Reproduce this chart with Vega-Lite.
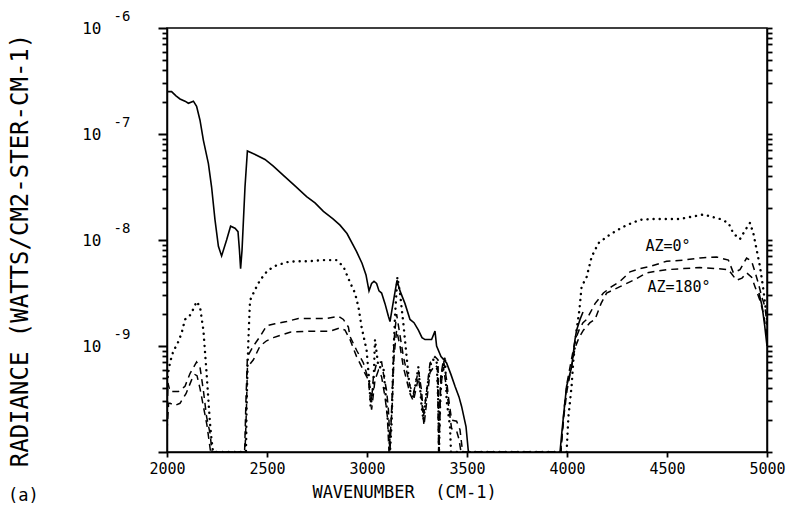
{
  "$schema": "https://vega.github.io/schema/vega-lite/v6.json",
  "width": 600,
  "height": 424,
  "autosize": "none",
  "padding": {"left": 167, "top": 28, "right": 24, "bottom": 56},
  "background": "white",
  "config": {
    "font": "DejaVu Sans Mono",
    "view": {"stroke": "black", "strokeWidth": 1.5},
    "axis": {"grid": false, "labelColor": "black", "domainColor": "black", "tickColor": "black", "titleColor": "black", "titleFontWeight": "normal", "domainWidth": 1.5, "tickWidth": 1.8}
  },
  "title": {"text": "(a)", "orient": "bottom", "anchor": "start", "frame": "bounds", "font": "DejaVu Sans Mono", "fontSize": 17, "fontWeight": "normal", "color": "black", "offset": -12},
  "data": {"values": [
    {"s":"S","x":2000,"y":2.51e-7},{"s":"S","x":2023,"y":2.51e-7},{"s":"S","x":2045,"y":2.29e-7},{"s":"S","x":2065,"y":2.14e-7},{"s":"S","x":2090,"y":2.04e-7},{"s":"S","x":2107,"y":1.95e-7},{"s":"S","x":2132,"y":2.04e-7},{"s":"S","x":2148,"y":1.82e-7},{"s":"S","x":2165,"y":1.35e-7},{"s":"S","x":2182,"y":8.71e-8},{"s":"S","x":2207,"y":5.25e-8},{"s":"S","x":2223,"y":3.16e-8},{"s":"S","x":2240,"y":1.55e-8},{"s":"S","x":2257,"y":8.71e-9},{"s":"S","x":2273,"y":7.08e-9},{"s":"S","x":2298,"y":1.0e-8},{"s":"S","x":2318,"y":1.35e-8},{"s":"S","x":2340,"y":1.29e-8},{"s":"S","x":2355,"y":1.20e-8},{"s":"S","x":2362,"y":8.13e-9},{"s":"S","x":2368,"y":5.37e-9},{"s":"S","x":2375,"y":7.94e-9},{"s":"S","x":2390,"y":3.16e-8},{"s":"S","x":2402,"y":6.92e-8},{"s":"S","x":2448,"y":6.31e-8},{"s":"S","x":2490,"y":5.75e-8},{"s":"S","x":2530,"y":5.01e-8},{"s":"S","x":2582,"y":4.07e-8},{"s":"S","x":2640,"y":3.24e-8},{"s":"S","x":2698,"y":2.57e-8},{"s":"S","x":2740,"y":2.24e-8},{"s":"S","x":2782,"y":1.86e-8},{"s":"S","x":2830,"y":1.58e-8},{"s":"S","x":2865,"y":1.38e-8},{"s":"S","x":2900,"y":1.15e-8},{"s":"S","x":2948,"y":7.76e-9},{"s":"S","x":2975,"y":6.03e-9},{"s":"S","x":2995,"y":4.68e-9},{"s":"S","x":3010,"y":3.31e-9},{"s":"S","x":3023,"y":3.89e-9},{"s":"S","x":3035,"y":4.07e-9},{"s":"S","x":3048,"y":3.89e-9},{"s":"S","x":3060,"y":3.31e-9},{"s":"S","x":3073,"y":3.16e-9},{"s":"S","x":3090,"y":2.51e-9},{"s":"S","x":3107,"y":1.91e-9},{"s":"S","x":3115,"y":1.70e-9},{"s":"S","x":3130,"y":2.51e-9},{"s":"S","x":3150,"y":4.17e-9},{"s":"S","x":3165,"y":3.31e-9},{"s":"S","x":3190,"y":2.51e-9},{"s":"S","x":3215,"y":1.78e-9},{"s":"S","x":3235,"y":1.66e-9},{"s":"S","x":3257,"y":1.41e-9},{"s":"S","x":3275,"y":1.20e-9},{"s":"S","x":3290,"y":1.15e-9},{"s":"S","x":3323,"y":1.15e-9},{"s":"S","x":3340,"y":1.38e-9},{"s":"S","x":3348,"y":1.0e-9},{"s":"S","x":3370,"y":7.94e-10},{"s":"S","x":3398,"y":6.92e-10},{"s":"S","x":3420,"y":5.37e-10},{"s":"S","x":3440,"y":4.17e-10},{"s":"S","x":3460,"y":3.31e-10},{"s":"S","x":3473,"y":2.69e-10},{"s":"S","x":3495,"y":1.74e-10},{"s":"S","x":3507,"y":1e-10},
    {"s":"S2","x":3965,"y":1e-10},{"s":"S2","x":3975,"y":1.58e-10},{"s":"S2","x":3982,"y":2.14e-10},{"s":"S2","x":3998,"y":4.17e-10},{"s":"S2","x":4023,"y":6.31e-10},{"s":"S2","x":4040,"y":1.15e-9},{"s":"S2","x":4048,"y":1.41e-9},{"s":"S2","x":4065,"y":1.78e-9},{"s":"S2","x":4080,"y":2.09e-9},
    {"s":"S3","x":4960,"y":3.16e-9},{"s":"S3","x":4975,"y":2.40e-9},{"s":"S3","x":4988,"y":1.58e-9},{"s":"S3","x":5000,"y":1.0e-9},
    {"s":"P","x":2000,"y":4.47e-10},{"s":"P","x":2010,"y":6.31e-10},{"s":"P","x":2023,"y":7.94e-10},{"s":"P","x":2035,"y":9.33e-10},{"s":"P","x":2048,"y":1.0e-9},{"s":"P","x":2073,"y":1.32e-9},{"s":"P","x":2090,"y":1.78e-9},{"s":"P","x":2115,"y":1.95e-9},{"s":"P","x":2135,"y":2.29e-9},{"s":"P","x":2148,"y":2.63e-9},{"s":"P","x":2165,"y":2.34e-9},{"s":"P","x":2182,"y":1.41e-9},{"s":"P","x":2198,"y":5.50e-10},{"s":"P","x":2215,"y":1.86e-10},{"s":"P","x":2223,"y":1.29e-10},{"s":"P","x":2230,"y":1e-10},{"s":"P","x":2395,"y":1e-10},{"s":"P","x":2398,"y":2.69e-10},{"s":"P","x":2402,"y":5.50e-10},{"s":"P","x":2407,"y":1.15e-9},{"s":"P","x":2415,"y":2.69e-9},{"s":"P","x":2440,"y":3.39e-9},{"s":"P","x":2465,"y":4.17e-9},{"s":"P","x":2498,"y":5.01e-9},{"s":"P","x":2532,"y":5.62e-9},{"s":"P","x":2598,"y":6.17e-9},{"s":"P","x":2650,"y":6.31e-9},{"s":"P","x":2715,"y":6.31e-9},{"s":"P","x":2780,"y":6.46e-9},{"s":"P","x":2848,"y":6.46e-9},{"s":"P","x":2882,"y":5.62e-9},{"s":"P","x":2915,"y":3.98e-9},{"s":"P","x":2940,"y":3.16e-9},{"s":"P","x":2957,"y":2.34e-9},{"s":"P","x":2973,"y":1.51e-9},{"s":"P","x":2998,"y":9.12e-10},{"s":"P","x":3012,"y":4.47e-10},{"s":"P","x":3018,"y":2.69e-10},{"s":"P","x":3032,"y":4.17e-10},{"s":"P","x":3040,"y":1.15e-9},{"s":"P","x":3057,"y":6.31e-10},{"s":"P","x":3082,"y":6.31e-10},{"s":"P","x":3098,"y":2.69e-10},{"s":"P","x":3112,"y":1.29e-10},{"s":"P","x":3115,"y":1e-10},{"s":"P","x":3123,"y":1.86e-10},{"s":"P","x":3132,"y":7.94e-10},{"s":"P","x":3140,"y":1.91e-9},{"s":"P","x":3152,"y":4.47e-9},{"s":"P","x":3165,"y":3.16e-9},{"s":"P","x":3182,"y":1.62e-9},{"s":"P","x":3198,"y":7.94e-10},{"s":"P","x":3215,"y":3.80e-10},{"s":"P","x":3232,"y":3.31e-10},{"s":"P","x":3257,"y":6.31e-10},{"s":"P","x":3273,"y":2.69e-10},{"s":"P","x":3282,"y":2.0e-10},{"s":"P","x":3300,"y":3.98e-10},{"s":"P","x":3323,"y":7.41e-10},{"s":"P","x":3348,"y":7.41e-10},{"s":"P","x":3357,"y":2.69e-10},{"s":"P","x":3360,"y":1e-10},{"s":"P","x":3365,"y":2.51e-10},{"s":"P","x":3373,"y":5.50e-10},{"s":"P","x":3390,"y":7.94e-10},{"s":"P","x":3398,"y":3.09e-10},{"s":"P","x":3415,"y":1.74e-10},{"s":"P","x":3420,"y":1e-10},{"s":"P","x":3998,"y":1e-10},{"s":"P","x":4007,"y":2.14e-10},{"s":"P","x":4023,"y":4.17e-10},{"s":"P","x":4032,"y":7.41e-10},{"s":"P","x":4048,"y":1.41e-9},{"s":"P","x":4062,"y":2.19e-9},{"s":"P","x":4073,"y":3.63e-9},{"s":"P","x":4098,"y":4.47e-9},{"s":"P","x":4123,"y":6.92e-9},{"s":"P","x":4157,"y":9.33e-9},{"s":"P","x":4198,"y":1.07e-8},{"s":"P","x":4248,"y":1.23e-8},{"s":"P","x":4298,"y":1.38e-8},{"s":"P","x":4365,"y":1.55e-8},{"s":"P","x":4432,"y":1.58e-8},{"s":"P","x":4565,"y":1.58e-8},{"s":"P","x":4682,"y":1.74e-8},{"s":"P","x":4765,"y":1.58e-8},{"s":"P","x":4807,"y":1.45e-8},{"s":"P","x":4832,"y":1.15e-8},{"s":"P","x":4865,"y":1.02e-8},{"s":"P","x":4890,"y":1.23e-8},{"s":"P","x":4915,"y":1.45e-8},{"s":"P","x":4932,"y":1.15e-8},{"s":"P","x":4948,"y":8.13e-9},{"s":"P","x":4965,"y":5.62e-9},{"s":"P","x":4982,"y":3.39e-9},{"s":"P","x":5000,"y":1.78e-9},
    {"s":"A","x":2000,"y":2.0e-10},{"s":"A","x":2005,"y":4.47e-10},{"s":"A","x":2015,"y":3.72e-10},{"s":"A","x":2057,"y":3.72e-10},{"s":"A","x":2090,"y":4.17e-10},{"s":"A","x":2115,"y":5.50e-10},{"s":"A","x":2148,"y":7.08e-10},{"s":"A","x":2165,"y":6.31e-10},{"s":"A","x":2182,"y":3.80e-10},{"s":"A","x":2198,"y":2.14e-10},{"s":"A","x":2215,"y":1.51e-10},{"s":"A","x":2225,"y":1e-10},{"s":"A","x":2388,"y":1e-10},{"s":"A","x":2395,"y":3.16e-10},{"s":"A","x":2402,"y":7.94e-10},{"s":"A","x":2432,"y":1.0e-9},{"s":"A","x":2465,"y":1.23e-9},{"s":"A","x":2498,"y":1.55e-9},{"s":"A","x":2540,"y":1.62e-9},{"s":"A","x":2598,"y":1.70e-9},{"s":"A","x":2657,"y":1.82e-9},{"s":"A","x":2732,"y":1.82e-9},{"s":"A","x":2798,"y":1.82e-9},{"s":"A","x":2857,"y":1.91e-9},{"s":"A","x":2882,"y":1.78e-9},{"s":"A","x":2907,"y":1.51e-9},{"s":"A","x":2915,"y":1.23e-9},{"s":"A","x":2948,"y":9.12e-10},{"s":"A","x":2982,"y":6.92e-10},{"s":"A","x":2998,"y":5.50e-10},{"s":"A","x":3012,"y":4.47e-10},{"s":"A","x":3023,"y":3.09e-10},{"s":"A","x":3032,"y":5.13e-10},{"s":"A","x":3048,"y":6.92e-10},{"s":"A","x":3073,"y":7.08e-10},{"s":"A","x":3082,"y":5.50e-10},{"s":"A","x":3098,"y":3.80e-10},{"s":"A","x":3107,"y":2.51e-10},{"s":"A","x":3112,"y":1.62e-10},{"s":"A","x":3115,"y":1e-10},{"s":"A","x":3125,"y":3.16e-10},{"s":"A","x":3135,"y":1.12e-9},{"s":"A","x":3148,"y":2.0e-9},{"s":"A","x":3165,"y":1.26e-9},{"s":"A","x":3182,"y":7.94e-10},{"s":"A","x":3215,"y":4.17e-10},{"s":"A","x":3232,"y":3.55e-10},{"s":"A","x":3257,"y":5.89e-10},{"s":"A","x":3273,"y":3.80e-10},{"s":"A","x":3282,"y":2.14e-10},{"s":"A","x":3300,"y":3.98e-10},{"s":"A","x":3315,"y":6.92e-10},{"s":"A","x":3340,"y":7.94e-10},{"s":"A","x":3355,"y":7.41e-10},{"s":"A","x":3360,"y":1e-10},{"s":"A","x":3368,"y":5.01e-10},{"s":"A","x":3382,"y":7.41e-10},{"s":"A","x":3398,"y":4.79e-10},{"s":"A","x":3407,"y":3.31e-10},{"s":"A","x":3423,"y":2.0e-10},{"s":"A","x":3448,"y":1.95e-10},{"s":"A","x":3465,"y":1.62e-10},{"s":"A","x":3478,"y":1e-10},{"s":"A","x":3970,"y":1e-10},{"s":"A","x":3985,"y":2.51e-10},{"s":"A","x":4000,"y":4.47e-10},{"s":"A","x":4020,"y":7.08e-10},{"s":"A","x":4040,"y":1.12e-9},{"s":"A","x":4060,"y":1.41e-9},{"s":"A","x":4080,"y":1.66e-9},{"s":"A","x":4098,"y":1.78e-9},{"s":"A","x":4115,"y":2.04e-9},{"s":"A","x":4140,"y":2.51e-9},{"s":"A","x":4182,"y":3.16e-9},{"s":"A","x":4223,"y":3.63e-9},{"s":"A","x":4265,"y":4.07e-9},{"s":"A","x":4315,"y":5.01e-9},{"s":"A","x":4365,"y":5.37e-9},{"s":"A","x":4415,"y":5.62e-9},{"s":"A","x":4498,"y":6.31e-9},{"s":"A","x":4582,"y":6.46e-9},{"s":"A","x":4665,"y":6.76e-9},{"s":"A","x":4748,"y":6.92e-9},{"s":"A","x":4807,"y":6.46e-9},{"s":"A","x":4832,"y":4.90e-9},{"s":"A","x":4865,"y":5.25e-9},{"s":"A","x":4898,"y":6.76e-9},{"s":"A","x":4923,"y":6.31e-9},{"s":"A","x":4940,"y":5.01e-9},{"s":"A","x":4957,"y":3.89e-9},{"s":"A","x":4973,"y":2.95e-9},{"s":"A","x":4990,"y":2.34e-9},{"s":"A","x":5000,"y":1.58e-9},
    {"s":"B","x":2000,"y":1.58e-10},{"s":"B","x":2008,"y":2.88e-10},{"s":"B","x":2015,"y":2.88e-10},{"s":"B","x":2040,"y":2.75e-10},{"s":"B","x":2065,"y":2.88e-10},{"s":"B","x":2095,"y":3.55e-10},{"s":"B","x":2123,"y":4.79e-10},{"s":"B","x":2140,"y":5.37e-10},{"s":"B","x":2150,"y":5.25e-10},{"s":"B","x":2165,"y":3.98e-10},{"s":"B","x":2180,"y":2.82e-10},{"s":"B","x":2200,"y":1.78e-10},{"s":"B","x":2218,"y":1e-10},{"s":"B","x":2390,"y":1e-10},{"s":"B","x":2397,"y":2.51e-10},{"s":"B","x":2402,"y":6.31e-10},{"s":"B","x":2432,"y":7.41e-10},{"s":"B","x":2465,"y":1.0e-9},{"s":"B","x":2498,"y":1.12e-9},{"s":"B","x":2532,"y":1.20e-9},{"s":"B","x":2615,"y":1.35e-9},{"s":"B","x":2715,"y":1.38e-9},{"s":"B","x":2815,"y":1.38e-9},{"s":"B","x":2865,"y":1.48e-9},{"s":"B","x":2890,"y":1.41e-9},{"s":"B","x":2915,"y":1.15e-9},{"s":"B","x":2948,"y":7.94e-10},{"s":"B","x":2982,"y":5.89e-10},{"s":"B","x":3007,"y":4.79e-10},{"s":"B","x":3015,"y":3.31e-10},{"s":"B","x":3023,"y":2.51e-10},{"s":"B","x":3040,"y":4.79e-10},{"s":"B","x":3057,"y":5.89e-10},{"s":"B","x":3073,"y":5.13e-10},{"s":"B","x":3090,"y":3.31e-10},{"s":"B","x":3102,"y":2.14e-10},{"s":"B","x":3110,"y":1e-10},{"s":"B","x":3125,"y":2.51e-10},{"s":"B","x":3135,"y":7.94e-10},{"s":"B","x":3148,"y":1.41e-9},{"s":"B","x":3165,"y":1.0e-9},{"s":"B","x":3182,"y":6.31e-10},{"s":"B","x":3215,"y":3.55e-10},{"s":"B","x":3232,"y":3.02e-10},{"s":"B","x":3257,"y":5.01e-10},{"s":"B","x":3273,"y":3.16e-10},{"s":"B","x":3285,"y":1.78e-10},{"s":"B","x":3300,"y":3.16e-10},{"s":"B","x":3315,"y":5.62e-10},{"s":"B","x":3340,"y":6.61e-10},{"s":"B","x":3352,"y":6.31e-10},{"s":"B","x":3358,"y":1e-10},{"s":"B","x":3368,"y":3.98e-10},{"s":"B","x":3382,"y":6.31e-10},{"s":"B","x":3398,"y":3.98e-10},{"s":"B","x":3407,"y":2.82e-10},{"s":"B","x":3423,"y":1.66e-10},{"s":"B","x":3448,"y":1.58e-10},{"s":"B","x":3460,"y":1.32e-10},{"s":"B","x":3470,"y":1e-10},{"s":"B","x":3968,"y":1e-10},{"s":"B","x":3985,"y":2.24e-10},{"s":"B","x":4000,"y":3.80e-10},{"s":"B","x":4020,"y":6.03e-10},{"s":"B","x":4040,"y":9.55e-10},{"s":"B","x":4060,"y":1.20e-9},{"s":"B","x":4082,"y":1.41e-9},{"s":"B","x":4115,"y":1.66e-9},{"s":"B","x":4140,"y":1.78e-9},{"s":"B","x":4170,"y":2.51e-9},{"s":"B","x":4198,"y":3.16e-9},{"s":"B","x":4265,"y":3.63e-9},{"s":"B","x":4332,"y":4.17e-9},{"s":"B","x":4398,"y":4.90e-9},{"s":"B","x":4498,"y":5.25e-9},{"s":"B","x":4582,"y":5.37e-9},{"s":"B","x":4665,"y":5.50e-9},{"s":"B","x":4748,"y":5.37e-9},{"s":"B","x":4807,"y":5.25e-9},{"s":"B","x":4848,"y":4.17e-9},{"s":"B","x":4875,"y":4.37e-9},{"s":"B","x":4898,"y":4.90e-9},{"s":"B","x":4923,"y":4.47e-9},{"s":"B","x":4940,"y":3.63e-9},{"s":"B","x":4965,"y":2.69e-9},{"s":"B","x":4982,"y":2.04e-9},{"s":"B","x":5000,"y":1.26e-9}
  ]},
  "resolve": {"axis": {"y": "independent"}},
  "layer": [
    {
      "transform": [{"filter": "indexof(['S','S2','S3'], datum.s) >= 0"}],
      "mark": {"type": "line", "color": "black", "strokeWidth": 1.6, "clip": true},
      "encoding": {
        "x": {"field": "x", "type": "quantitative", "scale": {"domain": [2000, 5000], "nice": false, "zero": false},
          "axis": {"values": [2000, 2500, 3000, 3500, 4000, 4500, 5000], "format": "d", "labelFont": "DejaVu Sans Mono", "labelFontSize": 15, "labelPadding": 4, "labelFlush": false, "labelOverlap": false, "tickSize": 5,
            "title": "WAVENUMBER\u00a0\u00a0(CM-1)", "titleFont": "DejaVu Sans Mono", "titleFontSize": 17, "titleX": 237, "titleY": 40, "titleAlign": "center", "titleBaseline": "middle"}},
        "y": {"field": "y", "type": "quantitative", "scale": {"type": "log", "domain": [1e-10, 1e-6], "nice": false},
          "axis": {"orient": "left", "ticks": true, "tickSize": 9, "tickWidth": 2, "domain": true, "values": [1e-10, 1e-9, 1e-8, 1e-7, 1e-6], "labelExpr": "datum.value < 5e-10 ? '' : '10'", "labelFont": "DejaVu Sans Mono", "labelFontSize": 16, "labelPadding": 57, "labelBaseline": "middle",
            "title": "RADIANCE (WATTS/CM2-STER-CM-1)", "titleFont": "DejaVu Sans Mono", "titleFontSize": 24, "titleX": -147, "titleY": 222, "titleAngle": -90, "titleAlign": "center", "titleBaseline": "middle"}},
        "detail": {"field": "s"}
      }
    },
    {
      "transform": [{"filter": "datum.s == 'P'"}],
      "mark": {"type": "line", "color": "black", "strokeWidth": 2.4, "strokeDash": [0.1, 6], "strokeCap": "round", "clip": true},
      "encoding": {
        "x": {"field": "x", "type": "quantitative"},
        "y": {"field": "y", "type": "quantitative",
          "axis": {"orient": "left", "ticks": false, "domain": false, "values": [1e-9, 1e-8, 1e-7, 1e-6], "labelExpr": "'-' + round(-log(datum.value)/LN10)", "labelFont": "DejaVu Sans Mono", "labelFontSize": 14, "labelAlign": "left", "labelPadding": 54, "labelOffset": -12, "labelBaseline": "middle", "title": null}}
      }
    },
    {
      "transform": [{"filter": "datum.s == 'A' || datum.s == 'B'"}],
      "mark": {"type": "line", "color": "black", "strokeWidth": 1.5, "strokeDash": [7, 5], "clip": true},
      "encoding": {
        "x": {"field": "x", "type": "quantitative"},
        "y": {"field": "y", "type": "quantitative",
          "axis": {"orient": "left", "labels": false, "title": null, "domain": false, "ticks": true, "tickSize": 5, "tickWidth": 1.8,
            "values": [2e-10,3e-10,4e-10,5e-10,6e-10,7e-10,8e-10,9e-10,2e-9,3e-9,4e-9,5e-9,6e-9,7e-9,8e-9,9e-9,2e-8,3e-8,4e-8,5e-8,6e-8,7e-8,8e-8,9e-8,2e-7,3e-7,4e-7,5e-7,6e-7,7e-7,8e-7,9e-7]}},
        "detail": {"field": "s"}
      }
    },
    {
      "data": {"values": [{"t": "AZ=0°", "x": 4505, "y": 8.7e-9}, {"t": "AZ=180°", "x": 4560, "y": 3.6e-9}]},
      "mark": {"type": "text", "font": "DejaVu Sans Mono", "fontSize": 15, "color": "black", "align": "center", "baseline": "middle"},
      "encoding": {
        "x": {"field": "x", "type": "quantitative"},
        "y": {"field": "y", "type": "quantitative",
          "axis": {"orient": "right", "labels": false, "title": null, "domain": true, "ticks": true, "tickSize": 5, "tickWidth": 1.8,
            "values": [1e-10,2e-10,3e-10,4e-10,5e-10,6e-10,7e-10,8e-10,9e-10,1e-9,2e-9,3e-9,4e-9,5e-9,6e-9,7e-9,8e-9,9e-9,1e-8,2e-8,3e-8,4e-8,5e-8,6e-8,7e-8,8e-8,9e-8,1e-7,2e-7,3e-7,4e-7,5e-7,6e-7,7e-7,8e-7,9e-7,1e-6]}},
        "text": {"field": "t"}
      }
    }
  ]
}
